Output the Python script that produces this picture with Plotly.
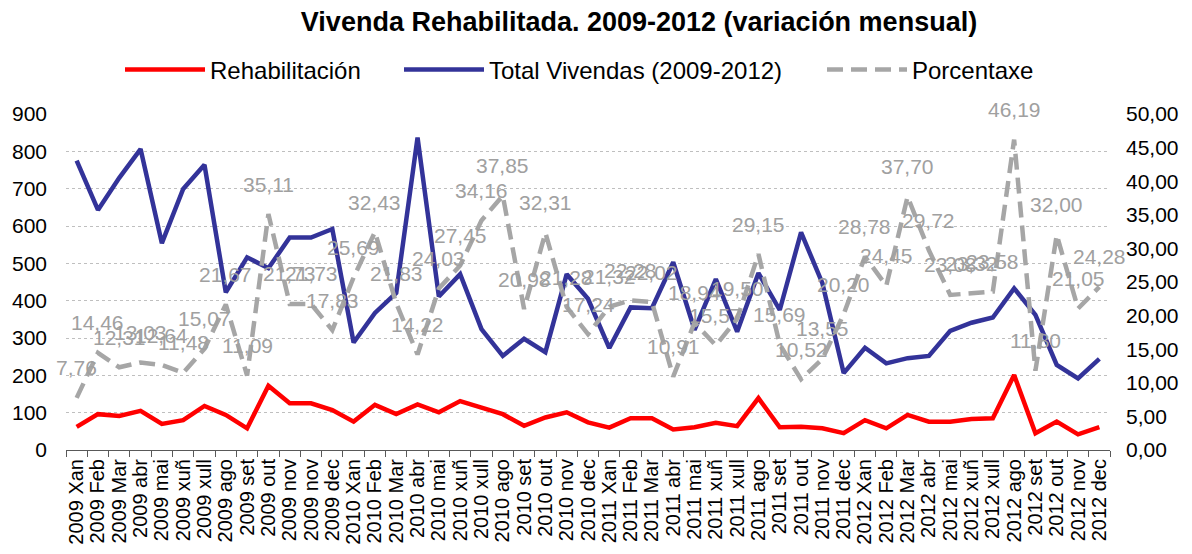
import plotly.graph_objects as go

categories = [
    "2009 Xan", "2009 Feb", "2009 Mar", "2009 abr", "2009 mai", "2009 xuñ", "2009 xull",
    "2009 ago", "2009 set", "2009 out", "2009 nov", "2009 nov", "2009 dec",
    "2010 Xan", "2010 Feb", "2010 Mar", "2010 abr", "2010 mai", "2010 xuñ", "2010 xull",
    "2010 ago", "2010 set", "2010 out", "2010 nov", "2010 dec",
    "2011 Xan", "2011 Feb", "2011 Mar", "2011 abr", "2011 mai", "2011 xuñ", "2011 xull",
    "2011 ago", "2011 set", "2011 out", "2011 nov", "2011 dec",
    "2012 Xan", "2012 Feb", "2012 Mar", "2012 abr", "2012 mai", "2012 xuñ", "2012 xull",
    "2012 ago", "2012 set", "2012 out", "2012 nov", "2012 dec",
]

rehabilitacion = [62, 96, 91, 105, 70, 80, 118, 94, 58, 172, 125, 125, 107,
                  76, 121, 96, 122, 101, 131, 112, 96, 65, 87, 101, 74,
                  60, 85, 85, 55, 61, 73, 64, 139, 61, 62, 58, 45,
                  80, 58, 94, 76, 76, 83, 85, 201, 45, 76, 42, 61]

total_vivendas = [775, 643, 729, 806, 554, 699, 764, 422, 516, 487, 569, 569, 592,
                  288, 367, 421, 837, 411, 471, 324, 252, 298, 262, 471, 405,
                  273, 382, 380, 503, 322, 458, 317, 474, 375, 583, 447, 206,
                  274, 232, 246, 252, 319, 341, 355, 433, 362, 228, 192, 244]

porcentaxe = [7.76, 14.46, 12.31, 13.03, 12.64, 11.48, 15.07, 21.67, 11.09, 35.11, 21.73, 21.73, 17.83,
              25.69, 32.43, 21.83, 14.22, 24.03, 27.45, 34.16, 37.85, 20.98, 32.31, 21.28, 17.24,
              21.32, 22.28, 22.02, 10.91, 18.94, 15.57, 19.50, 29.15, 15.69, 10.52, 13.55, 20.20,
              28.78, 24.45, 37.70, 29.72, 23.08, 23.32, 23.58, 46.19, 11.80, 32.00, 21.05, 24.28]

left_ticks = [0, 100, 200, 300, 400, 500, 600, 700, 800, 900]
right_ticks = [0, 5, 10, 15, 20, 25, 30, 35, 40, 45, 50]

FONT = "Liberation Sans, Arial, sans-serif"
idx = list(range(len(categories)))

# the page adds an 8px body margin, so the figure is 8px smaller than the window
W, H = 1184, 546
PLOT_L, PLOT_R = 66, 1110  # page pixels of the plot area

fig = go.Figure()
fig.add_trace(go.Scatter(x=idx, y=rehabilitacion, name="Rehabilitación", mode="lines",
                         legend="legend",
                         line=dict(color="#FF0000", width=4.5)))
fig.add_trace(go.Scatter(x=idx, y=total_vivendas, name="Total Vivendas (2009-2012)", mode="lines",
                         legend="legend2",
                         line=dict(color="#333399", width=4.5)))
fig.add_trace(go.Scatter(x=idx, y=porcentaxe, name="Porcentaxe", mode="lines", yaxis="y2",
                         legend="legend3",
                         line=dict(color="#A6A6A6", width=4.5, dash="16px,8px")))

annotations = []
for i, v in zip(idx, porcentaxe):
    annotations.append(dict(x=i, y=v, xref="x", yref="y2", yshift=30, showarrow=False,
                            text=f"{v:.2f}".replace(".", ","),
                            font=dict(family=FONT, size=21, color="#A0A0A0")))


def legend_box(px_left):
    return dict(orientation="h", x=(px_left - PLOT_L) / (PLOT_R - PLOT_L), xanchor="left",
                y=1.131, yanchor="middle", font=dict(family=FONT, size=24, color="black"),
                bgcolor="rgba(0,0,0,0)", itemwidth=80)


fig.update_layout(
    width=W, height=H,
    paper_bgcolor="white", plot_bgcolor="white",
    margin=dict(l=58, r=82, t=106, b=104, autoexpand=False),
    separators=",.",
    title=dict(text="<b>Vivenda Rehabilitada. 2009-2012 (variación mensual)</b>",
               x=631 / W, xref="container", xanchor="center",
               y=1 - 14 / H, yref="container", yanchor="middle",
               font=dict(family=FONT, size=27, color="black")),
    legend=legend_box(120),
    legend2=legend_box(399),
    legend3=legend_box(822),
    showlegend=True,
    xaxis=dict(range=[-0.5, len(categories) - 0.5], tickmode="array", tickvals=idx,
               ticktext=categories, tickangle=-90, ticks="", showgrid=False, zeroline=False,
               showline=True, linecolor="#595959", linewidth=1, automargin=False,
               tickfont=dict(family=FONT, size=20, color="black"),
               minor=dict(tick0=-0.5, dtick=1, ticks="outside", ticklen=6, tickcolor="#595959",
                          showgrid=False)),
    yaxis=dict(range=[0, 900], tickmode="array", tickvals=left_ticks, showgrid=True,
               gridcolor="#BFBFBF", griddash="dot", gridwidth=1, zeroline=False,
               showline=False, ticks="", ticklabelstandoff=18, automargin=False,
               tickfont=dict(family=FONT, size=21, color="black")),
    yaxis2=dict(range=[0, 50], overlaying="y", side="right", tickmode="array",
                tickvals=right_ticks, tickformat=".2f", showgrid=False, zeroline=False,
                showline=False, ticks="", ticklabelstandoff=15, automargin=False,
                tickfont=dict(family=FONT, size=21, color="black")),
    annotations=annotations,
)

fig.write_html("out.html")
